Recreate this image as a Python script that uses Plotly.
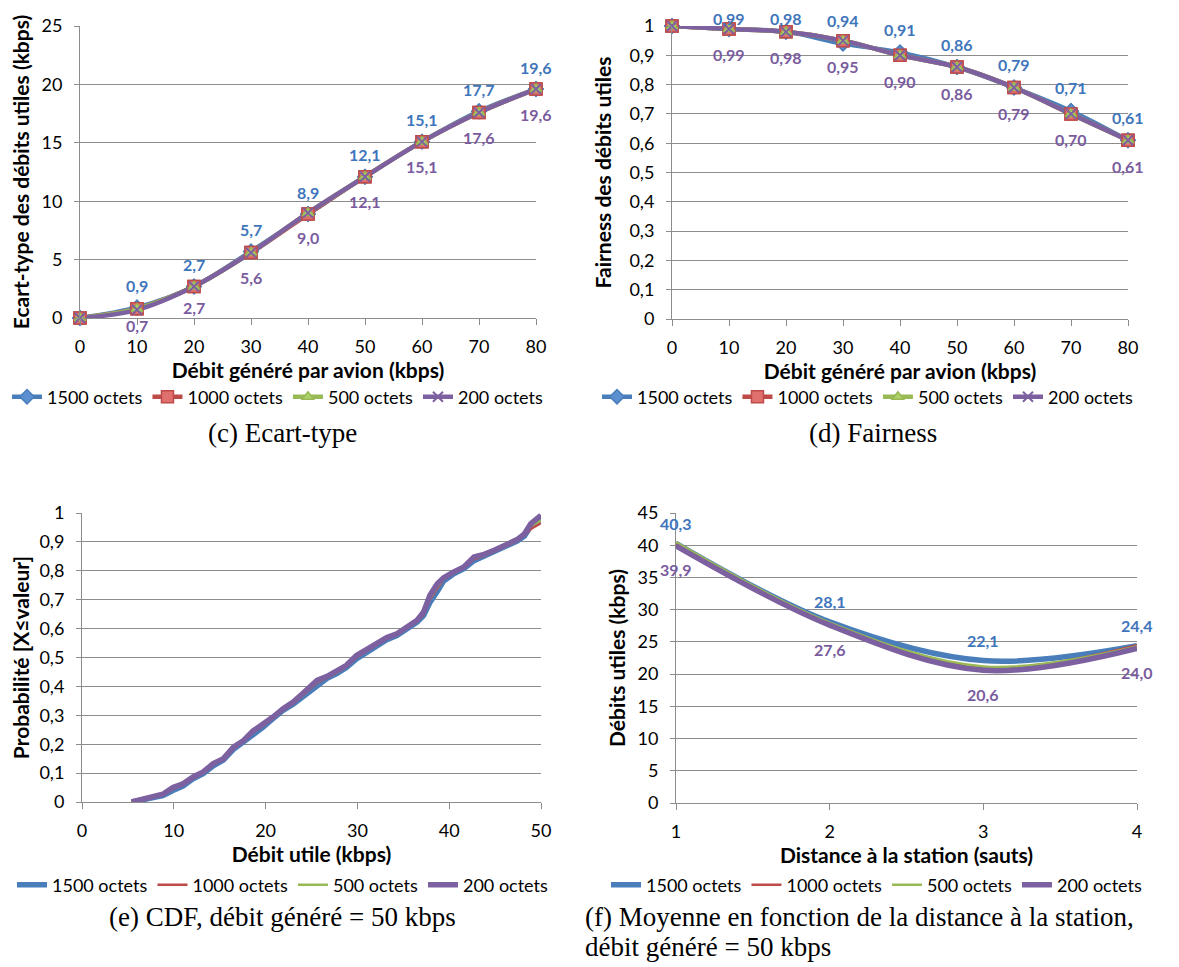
import plotly.graph_objects as go

W, H = 1179, 967
OFF = 8            # the page body adds an 8 px margin around the figure
FW, FH = W - OFF, H - OFF

# ---------------- data ----------------
series_names = ["1500 octets", "1000 octets", "500 octets", "200 octets"]
colors = ["#4a7ebb", "#be4b48", "#98b954", "#7d60a0"]

# (c) Ecart-type
debit_gen = [0, 10, 20, 30, 40, 50, 60, 70, 80]
ecart_1500 = [0, 0.9, 2.7, 5.7, 8.9, 12.1, 15.1, 17.7, 19.6]
ecart_1000 = [0, 0.8, 2.7, 5.6, 8.9, 12.1, 15.1, 17.6, 19.6]
ecart_500 = [0, 0.8, 2.7, 5.6, 9.0, 12.1, 15.1, 17.6, 19.6]
ecart_200 = [0, 0.7, 2.7, 5.6, 9.0, 12.1, 15.1, 17.6, 19.6]

# (d) Fairness
fair_1500 = [1, 0.99, 0.98, 0.94, 0.91, 0.86, 0.79, 0.71, 0.61]
fair_1000 = [1, 0.99, 0.98, 0.95, 0.90, 0.86, 0.79, 0.70, 0.61]
fair_500 = [1, 0.99, 0.98, 0.95, 0.90, 0.86, 0.79, 0.70, 0.61]
fair_200 = [1, 0.99, 0.98, 0.95, 0.90, 0.86, 0.79, 0.70, 0.61]

# (e) CDF, débit généré = 50 kbps
cdf_x = [5.4, 6.3, 7.0, 8.1, 8.8, 9.9, 11.0, 12.1, 13.2, 14.3, 15.4, 16.5, 17.6, 18.6,
         19.7, 20.8, 21.9, 23.0, 24.1, 25.6, 26.7, 27.8, 28.8, 29.9, 31.0, 32.1, 33.2,
         34.3, 35.4, 36.5, 37.2, 37.9, 38.7, 39.4, 40.5, 41.6, 42.7, 43.8, 44.9, 46.3,
         47.4, 48.2, 48.9, 50.0]
cdf_1500 = [0, 0.005, 0.010, 0.017, 0.022, 0.040, 0.055, 0.080, 0.098, 0.125, 0.145, 0.182,
            0.207, 0.235, 0.258, 0.288, 0.317, 0.338, 0.365, 0.405, 0.428, 0.445, 0.465,
            0.495, 0.518, 0.542, 0.562, 0.576, 0.600, 0.622, 0.645, 0.690, 0.728, 0.765,
            0.790, 0.807, 0.835, 0.850, 0.865, 0.886, 0.903, 0.920, 0.955, 0.982]
cdf_1000 = [0, 0.006, 0.012, 0.018, 0.024, 0.045, 0.058, 0.082, 0.100, 0.128, 0.147, 0.185,
            0.210, 0.240, 0.263, 0.290, 0.318, 0.340, 0.370, 0.412, 0.430, 0.448, 0.468,
            0.500, 0.522, 0.545, 0.565, 0.578, 0.603, 0.625, 0.648, 0.700, 0.740, 0.770,
            0.792, 0.810, 0.840, 0.852, 0.867, 0.888, 0.905, 0.922, 0.945, 0.965]
cdf_500 = [0, 0.007, 0.013, 0.019, 0.025, 0.047, 0.060, 0.084, 0.102, 0.130, 0.148, 0.187,
           0.211, 0.242, 0.265, 0.292, 0.320, 0.343, 0.372, 0.415, 0.432, 0.450, 0.470,
           0.503, 0.525, 0.547, 0.567, 0.580, 0.605, 0.627, 0.652, 0.705, 0.745, 0.772,
           0.794, 0.811, 0.843, 0.854, 0.869, 0.890, 0.906, 0.925, 0.955, 0.975]
cdf_200 = [0, 0.008, 0.015, 0.020, 0.027, 0.050, 0.063, 0.087, 0.104, 0.133, 0.150, 0.190,
           0.213, 0.245, 0.269, 0.294, 0.323, 0.346, 0.377, 0.421, 0.435, 0.453, 0.473,
           0.507, 0.528, 0.550, 0.569, 0.582, 0.608, 0.629, 0.657, 0.715, 0.755, 0.776,
           0.796, 0.813, 0.848, 0.857, 0.871, 0.892, 0.908, 0.928, 0.963, 0.992]

# (f) Moyenne en fonction de la distance à la station
distance = [1, 2, 3, 4]
moy_1500 = [40.3, 28.1, 22.1, 24.4]
moy_1000 = [40.2, 27.9, 21.0, 24.5]
moy_500 = [40.5, 28.0, 21.2, 24.3]
moy_200 = [39.9, 27.6, 20.6, 24.0]

captions = ["(c) Ecart-type", "(d) Fairness", "(e) CDF, débit généré = 50 kbps",
            "(f) Moyenne en fonction de la distance à la station,", "débit généré = 50 kbps"]

# ---------------- styling ----------------
FONT = "Lato"
GRID = "#8c8c8c"
LABEL_BLUE = "#3f76bb"
LABEL_PURPLE = "#7a5c9e"


def fx(px):
    return (px - OFF) / FW


def fy(py):
    return 1 - (py - OFF) / FH


fig = go.Figure()


def comma(v, nd):
    return f"{v:.{nd}f}".replace(".", ",")


def add_marker_chart(xs, ys_list, xa, ya, legend):
    symbols = ["diamond", "square", "triangle-up", "x-thin-open"]
    fills = ["#5b8fd0", "#e0706d", "#aed06a", "#7d60a0"]
    sizes = [11, 12, 10, 10]
    for i, ys in enumerate(ys_list):
        mk = dict(symbol=symbols[i], size=sizes[i], color=fills[i],
                  line=dict(color=colors[i], width=1.5 if i < 3 else 2))
        fig.add_trace(go.Scatter(
            x=xs, y=ys, mode="lines+markers", name=series_names[i],
            line=dict(color=colors[i], width=4.5, shape="spline", smoothing=1.0),
            marker=mk, xaxis=xa, yaxis=ya, legend=legend, cliponaxis=False))
    for i, ys in enumerate(ys_list):
        mk = dict(symbol=symbols[i], size=sizes[i], color=fills[i],
                  line=dict(color=colors[i], width=1.5 if i < 3 else 2))
        fig.add_trace(go.Scatter(
            x=xs, y=ys, mode="markers", name=series_names[i], showlegend=False,
            marker=mk, xaxis=xa, yaxis=ya, cliponaxis=False, hoverinfo="skip"))


def add_line_chart(xs, ys_list, xa, ya, legend, shape):
    widths = [5.5, 2.5, 2.5, 5.5]
    for i, ys in enumerate(ys_list):
        fig.add_trace(go.Scatter(
            x=xs, y=ys, mode="lines", name=series_names[i],
            line=dict(color=colors[i], width=widths[i], shape=shape,
                      **({"smoothing": 1.0} if shape == "spline" else {})),
            xaxis=xa, yaxis=ya, legend=legend, cliponaxis=False))


add_marker_chart(debit_gen, [ecart_1500, ecart_1000, ecart_500, ecart_200], "x", "y", "legend")
add_marker_chart(debit_gen, [fair_1500, fair_1000, fair_500, fair_200], "x2", "y2", "legend2")
add_line_chart(cdf_x, [cdf_1500, cdf_1000, cdf_500, cdf_200], "x3", "y3", "legend3", "linear")
add_line_chart(distance, [moy_1500, moy_1000, moy_500, moy_200], "x4", "y4", "legend4", "spline")

annotations = []


def add_labels(xs, top_vals, bot_vals, xref, yref, nd, up, down, skip_first):
    for k, x in enumerate(xs):
        if skip_first and k == 0:
            continue
        annotations.append(dict(x=x, y=top_vals[k], xref=xref, yref=yref, text=comma(top_vals[k], nd),
                                showarrow=False, yshift=up[k] if isinstance(up, list) else up,
                                font=dict(family=FONT, size=16, color=LABEL_BLUE, weight="bold")))
        annotations.append(dict(x=x, y=bot_vals[k], xref=xref, yref=yref, text=comma(bot_vals[k], nd),
                                showarrow=False, yshift=down[k] if isinstance(down, list) else down,
                                font=dict(family=FONT, size=16, color=LABEL_PURPLE, weight="bold")))


add_labels(debit_gen, ecart_1500, ecart_200, "x", "y", 1, 22,
           [-25, -16, -21, -25, -25, -25, -25, -25, -25], True)
add_labels(debit_gen, fair_1500, fair_200, "x2", "y2", 2,
           [22, 10, 13, 23, 23, 23, 23, 23, 23], -26, True)
add_labels(distance, moy_1500, moy_200, "x4", "y4", 1, 20, -24, False)

# captions
cap_font = dict(family="Liberation Serif", size=27, color="black")
for txt, xc, yc, anc in [(captions[0], 282, 433, "center"), (captions[1], 873, 433, "center"),
                         (captions[2], 282, 917, "center"), (captions[3], 583, 917, "left"),
                         (captions[4], 583, 947, "left")]:
    annotations.append(dict(x=fx(xc), y=fy(yc), xref="paper", yref="paper", text=txt,
                            showarrow=False, font=cap_font, xanchor=anc, yanchor="middle"))

tickfont = dict(family=FONT, size=18, color="black")
titlefont = dict(family=FONT, size=21, color="black", weight="bold")


def xaxis(domain, rng, dtick, title):
    return dict(domain=domain, range=rng, dtick=dtick, tick0=rng[0], showline=True, linecolor=GRID,
                linewidth=1, ticks="outside", ticklen=6, tickcolor=GRID, showgrid=False,
                zeroline=False, tickfont=tickfont, ticklabelstandoff=6,
                title=dict(text=title, font=titlefont, standoff=2), fixedrange=True)


def yaxis(domain, rng, dtick, title, standoff=6):
    return dict(domain=domain, range=rng, dtick=dtick, tick0=0, showline=True, linecolor=GRID,
                linewidth=1, ticks="outside", ticklen=5, tickcolor=GRID, showgrid=True,
                gridcolor=GRID, gridwidth=1, zeroline=False, tickfont=tickfont,
                ticklabelstandoff=8, title=dict(text=title, font=titlefont, standoff=standoff),
                fixedrange=True)


def legend_at(xc, yc):
    return dict(orientation="h", x=fx(xc), y=fy(yc), xanchor="center", yanchor="middle",
                font=dict(family=FONT, size=18, color="black"), bgcolor="rgba(0,0,0,0)",
                itemwidth=30, tracegroupgap=0)


fig.update_layout(
    width=FW, height=FH, margin=dict(l=0, r=0, t=0, b=0, autoexpand=False),
    paper_bgcolor="white", plot_bgcolor="white", separators=", ",
    showlegend=True,
    xaxis=xaxis([fx(80), fx(536)], [0, 80], 10, "Débit généré par avion (kbps)") | dict(anchor="y"),
    yaxis=yaxis([fy(318), fy(26)], [0, 25], 5, "Ecart-type des débits utiles (kbps)") | dict(anchor="x"),
    xaxis2=xaxis([fx(672), fx(1128)], [0, 80], 10, "Débit généré par avion (kbps)") | dict(anchor="y2"),
    yaxis2=yaxis([fy(319), fy(26)], [0, 1], 0.1, "Fairness des débits utiles", 12) | dict(anchor="x2"),
    xaxis3=xaxis([fx(82), fx(541)], [0, 50], 10, "Débit utile (kbps)") | dict(anchor="y3"),
    yaxis3=yaxis([fy(802), fy(513)], [0, 1], 0.1, "Probabilité [X≤valeur]") | dict(anchor="x3"),
    xaxis4=xaxis([fx(676), fx(1137)], [1, 4], 1, "Distance à la station (sauts)") | dict(anchor="y4"),
    yaxis4=yaxis([fy(803), fy(513)], [0, 45], 5, "Débits utiles (kbps)") | dict(anchor="x4"),
    legend=legend_at(278, 397),
    legend2=legend_at(868, 397),
    legend3=legend_at(283, 885),
    legend4=legend_at(877, 885),
    annotations=annotations,
)

fig.write_html("out.html")
